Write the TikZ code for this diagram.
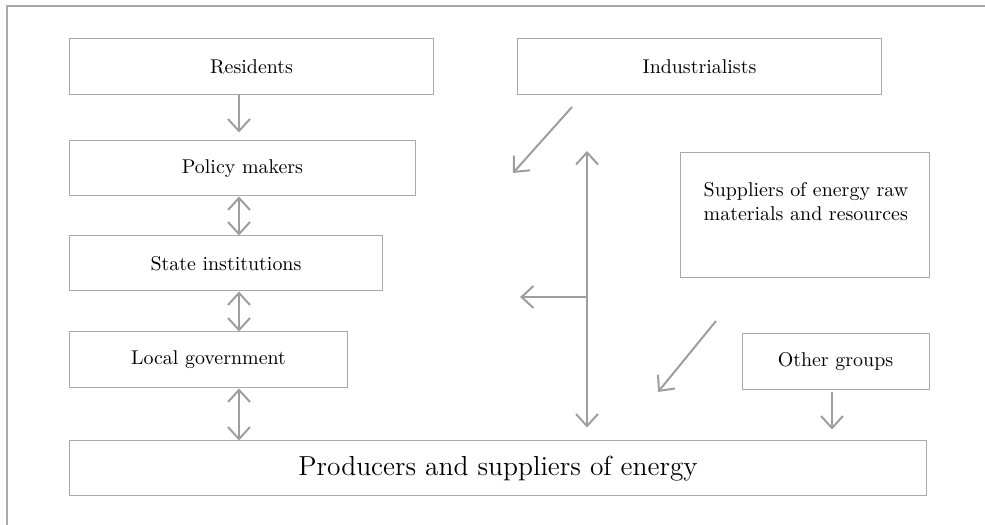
\documentclass[tikz,border=0pt]{standalone}
\usetikzlibrary{arrows.meta}
\definecolor{boxgray}{HTML}{A9A9A9}
\definecolor{arrgray}{HTML}{9E9E9E}
\begin{document}
\begin{tikzpicture}[x=.5bp,y=-.5bp,>={Straight Barb[length=6bp,width=11bp]},
box/.style={draw=boxgray,line width=.5bp,inner sep=0pt,font=\normalsize},
arr/.style={arrgray,line width=1bp}]
\useasboundingbox (0,0) rectangle (985,525);
\draw[boxgray,line width=.75bp] (7,525)--(7,6)--(985,6);
\node[box,minimum width=181.5bp,minimum height=28bp] (res) at (251.5,67) {Residents};
\node[box,minimum width=172.5bp,minimum height=27.5bp] (pol) at (242.5,168.5) {Policy makers};
\node[box,minimum width=156bp,minimum height=27.5bp] (sta) at (226,263.5) {State institutions};
\node[box,minimum width=138.5bp,minimum height=28bp] (loc) at (208.5,360) {Local government};
\node[box,minimum width=428bp,minimum height=27.5bp,font=\fontsize{13.8}{16}\selectfont] (prod) at (498,468.5) {Producers and suppliers of energy};
\node[box,minimum width=181.5bp,minimum height=28bp] (ind) at (699.5,67) {Industrialists};
\node[box,minimum width=124.5bp,minimum height=62.5bp] (sup) at (804.5,215.5) {};
\node[align=left] (suptext) at (806,202) {Suppliers of energy raw\\materials and resources};
\node[box,minimum width=93.5bp,minimum height=28bp] (oth) at (835.5,362) {Other groups};
\coordinate (col) at (239,0);
\draw[arr,->,shorten >=4bp] (col |- res.south)--(col |- pol.north);
\draw[arr,<->] (col |- pol.south)--(col |- sta.north);
\draw[arr,<->] (col |- sta.south)--(col |- loc.north);
\draw[arr,<->] (col |- loc.south)--(col |- prod.north);
\coordinate (ind-a) at (572,107);
\coordinate (ind-b) at (513,173);
\draw[arr,->] (ind-a)--(ind-b);
\coordinate (mid-top) at (587,151);
\coordinate (branch) at (587,297);
\coordinate (branch-end) at (520,297);
\draw[arr,<->,shorten >=6.5bp] (mid-top)--(mid-top |- prod.north);
\draw[arr,->] (branch)--(branch-end);
\coordinate (sup-a) at (716,321);
\coordinate (sup-b) at (658,392);
\draw[arr,->] (sup-a)--(sup-b);
\coordinate (oth-col) at (832,0);
\draw[arr,->,shorten <=1bp,shorten >=5.5bp] (oth-col |- oth.south)--(oth-col |- prod.north);
\end{tikzpicture}
\end{document}
